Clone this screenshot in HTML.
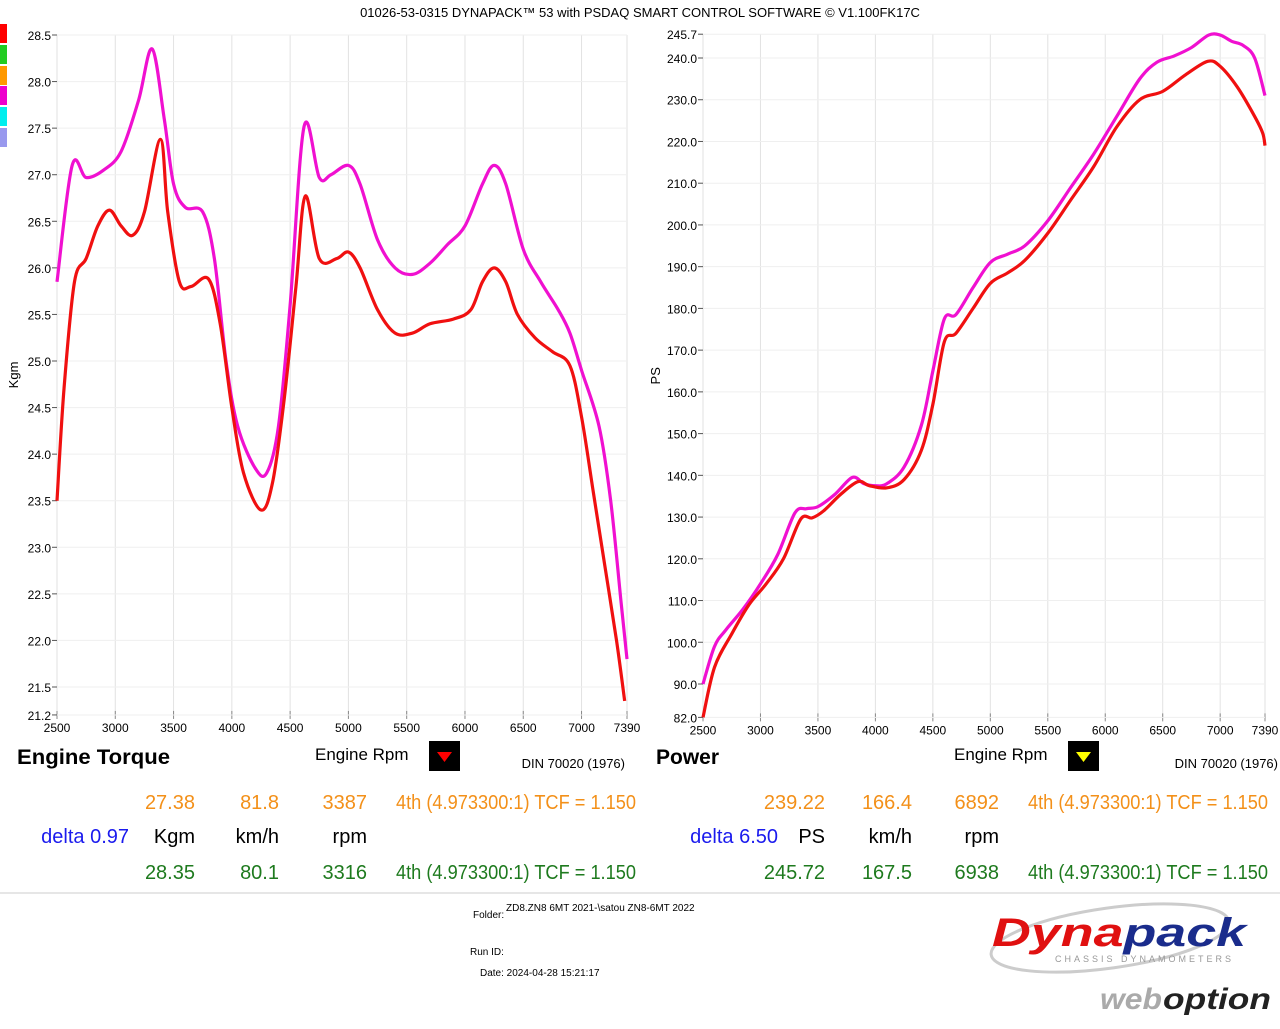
<!DOCTYPE html>
<html><head><meta charset="utf-8">
<style>
body{margin:0;background:#fff;width:1280px;height:1024px;overflow:hidden;font-family:"Liberation Sans",sans-serif;}
svg text{font-family:"Liberation Sans",sans-serif;}
</style></head>
<body>
<svg id="chart" width="1280" height="1024" viewBox="0 0 1280 1024">
<rect x="0" y="0" width="1280" height="1024" fill="#fff"/>
<text x="640" y="17" font-size="13" text-anchor="middle" fill="#000">01026-53-0315 DYNAPACK™ 53 with PSDAQ SMART CONTROL SOFTWARE © V1.100FK17C</text>
<g>
<rect x="0" y="24" width="7" height="19" fill="#f00"/>
<rect x="0" y="45" width="7" height="19" fill="#2c2"/>
<rect x="0" y="66" width="7" height="19" fill="#f90"/>
<rect x="0" y="86" width="7" height="19" fill="#e0c"/>
<rect x="0" y="107" width="7" height="19" fill="#0ee"/>
<rect x="0" y="128" width="7" height="19" fill="#99e"/>
</g>
<g id="left"></g>
<g id="right"></g>

<text x="17" y="764" font-size="21" font-weight="bold" textLength="153" lengthAdjust="spacingAndGlyphs">Engine Torque</text>
<text x="315" y="760" font-size="17">Engine Rpm</text>
<rect x="429" y="741" width="31" height="30" fill="#000"/>
<polygon points="437,752 452,752 444.5,762" fill="#f00"/>
<text x="625" y="768" font-size="13" text-anchor="end">DIN 70020 (1976)</text>

<text x="656" y="764" font-size="21" font-weight="bold">Power</text>
<text x="954" y="760" font-size="17">Engine Rpm</text>
<rect x="1068" y="741" width="31" height="30" fill="#000"/>
<polygon points="1076,752 1091,752 1083.5,762" fill="#ff0"/>
<text x="1278" y="768" font-size="13" text-anchor="end">DIN 70020 (1976)</text>

<g font-size="20">
<g fill="#f39019" text-anchor="end"><text x="195" y="809">27.38</text><text x="279" y="809">81.8</text><text x="367" y="809">3387</text></g>
<text x="396" y="809" fill="#f39019" textLength="240" lengthAdjust="spacingAndGlyphs">4th (4.973300:1) TCF = 1.150</text>
<text x="129" y="843" fill="#1a1aee" text-anchor="end">delta 0.97</text>
<g text-anchor="end"><text x="195" y="843">Kgm</text><text x="279" y="843">km/h</text><text x="367" y="843">rpm</text></g>
<g fill="#1e7a1e" text-anchor="end"><text x="195" y="879">28.35</text><text x="279" y="879">80.1</text><text x="367" y="879">3316</text></g>
<text x="396" y="879" fill="#1e7a1e" textLength="240" lengthAdjust="spacingAndGlyphs">4th (4.973300:1) TCF = 1.150</text>
</g>
<g font-size="20">
<g fill="#f39019" text-anchor="end"><text x="825" y="809">239.22</text><text x="912" y="809">166.4</text><text x="999" y="809">6892</text></g>
<text x="1028" y="809" fill="#f39019" textLength="240" lengthAdjust="spacingAndGlyphs">4th (4.973300:1) TCF = 1.150</text>
<text x="778" y="843" fill="#1a1aee" text-anchor="end">delta 6.50</text>
<g text-anchor="end"><text x="825" y="843">PS</text><text x="912" y="843">km/h</text><text x="999" y="843">rpm</text></g>
<g fill="#1e7a1e" text-anchor="end"><text x="825" y="879">245.72</text><text x="912" y="879">167.5</text><text x="999" y="879">6938</text></g>
<text x="1028" y="879" fill="#1e7a1e" textLength="240" lengthAdjust="spacingAndGlyphs">4th (4.973300:1) TCF = 1.150</text>
</g>
<line x1="0" y1="893" x2="1280" y2="893" stroke="#e6e6e6" stroke-width="2"/>
<g font-size="10">
<text x="473" y="918">Folder:</text><text x="506" y="911">ZD8.ZN8 6MT 2021-\satou ZN8-6MT 2022</text>
<text x="470" y="955">Run ID:</text>
<text x="480" y="976">Date:  2024-04-28 15:21:17</text>
</g>
<g>
<ellipse cx="1110" cy="938" rx="120" ry="30" fill="none" stroke="#ccc" stroke-width="3" transform="rotate(-8 1110 938)"/>
<text x="992" y="946" font-size="40" font-weight="bold" font-style="italic" textLength="254" lengthAdjust="spacingAndGlyphs"><tspan fill="#e01010">Dyna</tspan><tspan fill="#1a2c8c">pack</tspan></text>
<text x="1055" y="962" font-size="9" fill="#999" letter-spacing="3">CHASSIS DYNAMOMETERS</text>
<text x="1100" y="1009" font-size="30" font-weight="bold" font-style="italic" fill="#aaa" textLength="62" lengthAdjust="spacingAndGlyphs">web</text>
<text x="1163" y="1009" font-size="30" font-weight="bold" font-style="italic" fill="#222" textLength="108" lengthAdjust="spacingAndGlyphs">option</text>
</g>
</svg>
<script>
const torqueTicksY=[21.2,21.5,22.0,22.5,23.0,23.5,24.0,24.5,25.0,25.5,26.0,26.5,27.0,27.5,28.0,28.5];
const powerTicksY=[82.0,90.0,100.0,110.0,120.0,130.0,140.0,150.0,160.0,170.0,180.0,190.0,200.0,210.0,220.0,230.0,240.0,245.7];
const rpmTicks=[2500,3000,3500,4000,4500,5000,5500,6000,6500,7000,7390];
const torqueRpmA=[2500,2630,2750,2900,3050,3200,3316,3420,3500,3600,3750,3850,3950,4050,4200,4300,4400,4500,4620,4750,4850,5000,5100,5250,5400,5550,5700,5850,6000,6150,6250,6350,6500,6650,6800,6900,7000,7150,7250,7340,7390];
const torqueA=[25.85,27.1,26.97,27.05,27.25,27.8,28.35,27.6,26.9,26.65,26.6,26.1,25.0,24.3,23.85,23.8,24.3,25.6,27.52,26.97,27.0,27.1,26.9,26.3,26.0,25.93,26.05,26.25,26.45,26.9,27.1,26.9,26.2,25.85,25.55,25.3,24.9,24.3,23.5,22.4,21.8];
const torqueRpmB=[2500,2560,2650,2750,2850,2950,3050,3150,3250,3387,3450,3550,3650,3800,3900,4000,4100,4250,4350,4450,4550,4630,4750,4900,5000,5100,5250,5400,5550,5700,5900,6050,6150,6250,6350,6450,6600,6750,6900,7000,7100,7200,7300,7370];
const torqueB=[23.5,24.7,25.85,26.1,26.45,26.62,26.45,26.35,26.6,27.38,26.6,25.85,25.8,25.88,25.4,24.5,23.8,23.4,23.7,24.6,25.8,26.77,26.1,26.1,26.17,26.0,25.55,25.3,25.3,25.4,25.45,25.55,25.85,26.0,25.85,25.5,25.25,25.1,24.95,24.4,23.6,22.8,22.0,21.35];
const powerRpmA=[2500,2600,2700,2850,3000,3150,3300,3400,3500,3650,3800,3900,4000,4100,4250,4400,4500,4600,4700,4850,5000,5150,5300,5500,5700,5900,6100,6300,6450,6600,6750,6900,7000,7100,7200,7300,7390];
const powerA=[90,99,103,108,114,121,131,132,132.5,135.5,139.5,138,137.5,138,142,152,165,177.5,178.5,185,191,193,195,201,209,217,226,235,239,240.5,242.5,245.5,245.5,244,243,240,231];
const powerRpmB=[2500,2600,2750,2900,3050,3200,3350,3450,3550,3700,3850,3950,4100,4250,4400,4500,4600,4700,4850,5000,5150,5300,5500,5700,5900,6100,6300,6500,6700,6892,7000,7150,7300,7370,7390];
const powerB=[82,94,102,109,114,120,129.5,129.8,131.5,135.5,138.5,137.5,137,139,146,157,172,174,180,186,188.5,191.5,198,206,214,223.5,230,232,236,239.2,238,233,226,222,219];

const NS='http://www.w3.org/2000/svg';
function mk(parent,tag,attrs){const e=document.createElementNS(NS,tag);for(const k in attrs)e.setAttribute(k,attrs[k]);parent.appendChild(e);return e;}
function smooth(pts){let d='M'+pts[0][0]+','+pts[0][1];for(let i=0;i<pts.length-1;i++){const p0=pts[i-1]||pts[i],p1=pts[i],p2=pts[i+1],p3=pts[i+2]||p2;
d+=' C'+(p1[0]+(p2[0]-p0[0])/6)+','+(p1[1]+(p2[1]-p0[1])/6)+' '+(p2[0]-(p3[0]-p1[0])/6)+','+(p2[1]-(p3[1]-p1[1])/6)+' '+p2[0]+','+p2[1];}return d;}
function plot(g,cfg){
  const xs=v=>cfg.x0+(v-2500)*(cfg.x1-cfg.x0)/4890;
  const ys=v=>cfg.yA+(v-cfg.vA)*(cfg.yB-cfg.yA)/(cfg.vB-cfg.vA);
  const top=ys(cfg.ticks[cfg.ticks.length-1]),bot=ys(cfg.ticks[0]);
  rpmTicks.forEach(t=>{const x=xs(t);
    const gl=mk(g,'line',{x1:x,y1:top,x2:x,y2:bot,stroke:'#e2e2e2','stroke-width':1});
    
    
    mk(g,'line',{x1:x,y1:bot-4,x2:x,y2:bot+4,stroke:'#888'});
    const tx=mk(g,'text',{x:x,y:bot+17,'font-size':12,'text-anchor':'middle'});tx.textContent=t;
    
    
  });
  cfg.ticks.forEach(t=>{const y=ys(t);
    mk(g,'line',{x1:cfg.x0,y1:y,x2:cfg.x1,y2:y,stroke:'#efefef','stroke-width':1});
    mk(g,'line',{x1:cfg.x0-5,y1:y,x2:cfg.x0,y2:y,stroke:'#555'});
    const tx=mk(g,'text',{x:cfg.x0-6,y:y+5,'font-size':12,'text-anchor':'end'});tx.textContent=t.toFixed(1);
    
    
  });
  const yt=mk(g,'text',{x:0,y:0,'font-size':13,'text-anchor':'middle',transform:'translate('+cfg.labelX+','+((top+bot)/2)+') rotate(-90)'});yt.textContent=cfg.label;
  
  
  cfg.series.forEach(s=>{
    const pts=s.r.map((r,i)=>[xs(r),ys(s.v[i])]);
    const p=mk(g,'path',{d:smooth(pts),fill:'none',stroke:s.c,'stroke-width':3.2,'stroke-linejoin':'round'});
    
    
  });
}
plot(document.getElementById('left'),{x0:57,x1:627,yA:687,vA:21.5,yB:35,vB:28.5,ticks:torqueTicksY,label:'Kgm',labelX:18,
  series:[{r:torqueRpmA,v:torqueA,c:'#f010d0',n:'torque-run-a'},{r:torqueRpmB,v:torqueB,c:'#f01010',n:'torque-run-b'}]});
plot(document.getElementById('right'),{x0:703,x1:1265,yA:684,vA:90,yB:58,vB:240,ticks:powerTicksY,label:'PS',labelX:660,
  series:[{r:powerRpmA,v:powerA,c:'#f010d0',n:'power-run-a'},{r:powerRpmB,v:powerB,c:'#f01010',n:'power-run-b'}]});
</script>
</body></html>
